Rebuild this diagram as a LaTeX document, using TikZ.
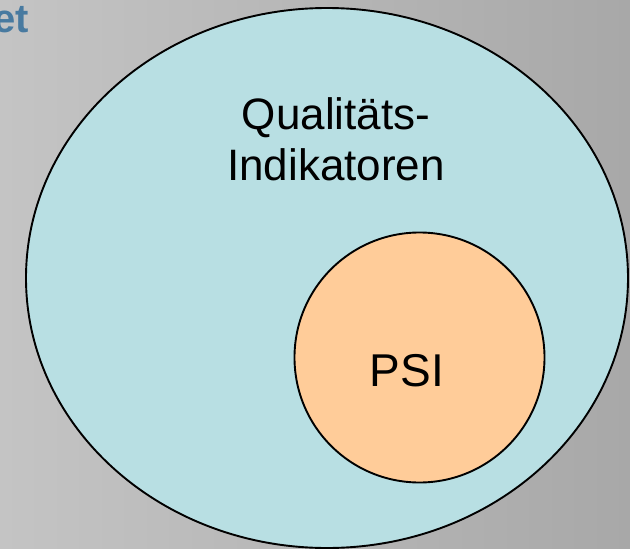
\documentclass[tikz,border=0pt]{standalone}
\usepackage{fontspec}
\setmainfont{Liberation Sans}
\usepackage{xcolor}
\definecolor{bgleft}{RGB}{196,196,196}
\definecolor{bgright}{RGB}{168,168,168}
\definecolor{qiblue}{RGB}{184,223,227}
\definecolor{psiorange}{RGB}{255,204,153}
\definecolor{logoblue}{RGB}{72,122,160}

\begin{document}
\begin{tikzpicture}[x=1pt, y=-1pt]
            \useasboundingbox (0,0) rectangle (630,549);
            \shade[left color=bgleft, right color=bgright] (0,0) rectangle (630,549);
            
            % Logo fragment
            \node[anchor=base east, inner sep=0pt, text=logoblue, font=\fontsize{40}{40}\selectfont\bfseries] (logo) at (29,32) {et};
            
            % Quality indicators
            \filldraw[fill=qiblue, line width=1.9pt] (327,278) ellipse (301pt and 270pt);
            \node[align=center, inner sep=0pt, font=\fontsize{44}{51}\selectfont] (qilabel) at (336,139) {Qualitäts-\\Indikatoren};
            
            % PSI
            \filldraw[fill=psiorange, line width=1.9pt] (419.5,357.5) circle (125pt);
            \node[inner sep=0pt, font=\fontsize{46}{46}\selectfont] (psilabel) at (407,370.5) {PSI};
        \end{tikzpicture}
\end{document}
